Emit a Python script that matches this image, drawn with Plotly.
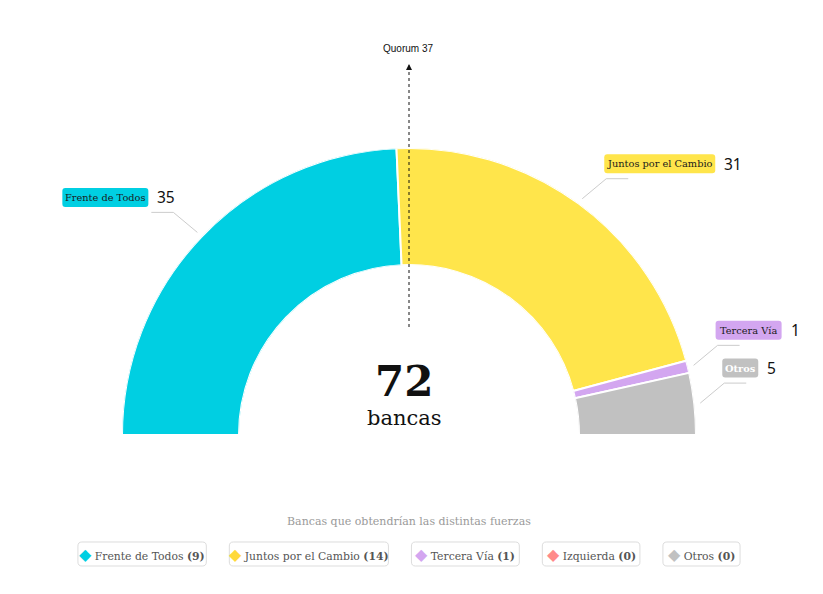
import math
import plotly.graph_objects as go

# ---- data ----
parties = ["Frente de Todos", "Juntos por el Cambio", "Tercera Vía", "Otros"]
seats = [35, 31, 1, 5]
colors = ["#00CFE2", "#FFE54B", "#D3A6F0", "#C1C1C1"]
label_text_colors = ["#1a1a1a", "#1a1a1a", "#1a1a1a", "#ffffff"]
total_seats = 72
quorum = 37
center_label = "bancas"

legend_title = "Bancas que obtendrían las distintas fuerzas"
legend_names = ["Frente de Todos", "Juntos por el Cambio", "Tercera Vía", "Izquierda", "Otros"]
legend_counts = [9, 14, 1, 0, 0]
legend_colors = ["#00CFE2", "#FFD93B", "#D3A6F0", "#FF8A8A", "#C1C1C1"]

# ---- layout geometry (pixels of the window) ----
OFF = 8                      # page body margin
W, H = 823 - OFF, 594 - OFF  # figure size
cx, cy, R, r_in = 409, 435, 287, 170
SERIF = "DejaVu Serif"


def P(x, y):
    return (x - OFF) / W, 1 - (y - OFF) / H


def rrect(xl, yt, xr, yb, rad):
    """rounded rectangle path in paper coords from window pixels"""
    def p(x, y):
        a, b = P(x, y)
        return "%.5f,%.5f" % (a, b)
    return ("M%s L%s Q%s %s L%s Q%s %s L%s Q%s %s L%s Q%s %s Z" % (
        p(xl + rad, yt), p(xr - rad, yt), p(xr, yt), p(xr, yt + rad),
        p(xr, yb - rad), p(xr, yb), p(xr - rad, yb),
        p(xl + rad, yb), p(xl, yb), p(xl, yb - rad),
        p(xl, yt + rad), p(xl, yt), p(xl + rad, yt)))


deg_per_seat = 180 / total_seats
starts = [sum(seats[:i]) for i in range(len(seats))]
theta = [(s + v / 2) * deg_per_seat for s, v in zip(starts, seats)]
widths = [v * deg_per_seat for v in seats]

fig = go.Figure()
fig.add_trace(go.Barpolar(
    theta=theta, r=[1] * len(seats), width=widths, base=0,
    marker=dict(color=colors, line=dict(color="white", width=2)),
    hoverinfo="skip", showlegend=False,
))

x0, y0 = P(cx - R, cy)
x1, y1 = P(cx + R, cy - R)
fig.update_layout(
    width=W, height=H, margin=dict(l=0, r=0, t=0, b=0),
    paper_bgcolor="white", plot_bgcolor="white",
    showlegend=False,
    polar=dict(
        domain=dict(x=[x0, x1], y=[y0, y1]),
        sector=[0, 180], hole=r_in / R, bgcolor="white",
        angularaxis=dict(direction="clockwise", rotation=180, visible=False),
        radialaxis=dict(range=[0, 1], visible=False),
    ),
)

shapes = []
annotations = []

# ---- leader lines and labels ----
for name, v, th, col, tcol in zip(parties, seats, theta, colors, label_text_colors):
    a = math.radians(th)
    sx = cx - (R + 6) * math.cos(a)
    sy = cy - (R + 6) * math.sin(a)
    side = -1 if th < 90 else 1
    dx, dy = sx + side * 24, sy - 20
    hx = dx + side * 22
    for (ax_, ay_), (bx_, by_) in [((sx, sy), (dx, dy)), ((dx, dy), (hx, dy))]:
        p1, p2 = P(ax_, ay_), P(bx_, by_)
        shapes.append(dict(type="line", xref="paper", yref="paper",
                           x0=p1[0], y0=p1[1], x1=p2[0], y1=p2[1],
                           line=dict(color="#cccccc", width=1)))
    box_w = 5.0 * len(name) + 11
    num_w = 9 * len(str(v)) + 7
    bx_left = dx - 2 if side > 0 else dx - box_w - num_w
    ly = dy - 15
    shapes.append(dict(type="path", xref="paper", yref="paper",
                       path=rrect(bx_left, ly - 9.5, bx_left + box_w, ly + 9.5, 3),
                       fillcolor=col, line=dict(width=0)))
    bpx, bpy = P(bx_left + box_w / 2, ly)
    bold = name == "Otros"
    annotations.append(dict(
        xref="paper", yref="paper", x=bpx, y=bpy, showarrow=False,
        text=("<b>%s</b>" % name) if bold else name,
        font=dict(family=SERIF, size=9.8, color=tcol),
        xanchor="center", yanchor="middle"))
    npx, npy = P(bx_left + box_w + 7, ly)
    annotations.append(dict(
        xref="paper", yref="paper", x=npx, y=npy, showarrow=False,
        text=str(v), font=dict(family="Noto Sans", size=15.5, color="#111"),
        xanchor="left", yanchor="middle"))

# ---- quorum line ----
qx, qtop = P(cx, 68)
_, qbot = P(cx, 327)
shapes.append(dict(type="line", xref="paper", yref="paper",
                   x0=qx, x1=qx, y0=qbot, y1=qtop,
                   line=dict(color="#111", width=1, dash="3px,3px")))
hx_, hy_ = P(cx, 64)
annotations.append(dict(xref="paper", yref="paper", x=hx_, y=hy_,
                        ax=0, ay=7, text="", showarrow=True, arrowhead=2,
                        arrowsize=1, arrowwidth=1.2, arrowcolor="#111"))
tx_, ty_ = P(cx - 1, 48)
annotations.append(dict(xref="paper", yref="paper", x=tx_, y=ty_, showarrow=False,
                        text="Quorum %d" % quorum,
                        font=dict(family="Liberation Sans", size=10, color="#111"),
                        xanchor="center", yanchor="middle"))

# ---- center text ----
c1 = P(cx - 5, 382)
annotations.append(dict(xref="paper", yref="paper", x=c1[0], y=c1[1], showarrow=False,
                        text="<b>%d</b>" % total_seats,
                        font=dict(family=SERIF, size=42, color="#111"),
                        xanchor="center", yanchor="middle"))
c2 = P(cx - 5, 418)
annotations.append(dict(xref="paper", yref="paper", x=c2[0], y=c2[1], showarrow=False,
                        text=center_label,
                        font=dict(family=SERIF, size=21, color="#111"),
                        xanchor="center", yanchor="middle"))

# ---- legend ----
lt = P(cx, 521)
annotations.append(dict(xref="paper", yref="paper", x=lt[0], y=lt[1], showarrow=False,
                        text=legend_title,
                        font=dict(family=SERIF, size=11, color="#9a9a9a"),
                        xanchor="center", yanchor="middle"))
texts = ["%s (%d)" % (n, c) for n, c in zip(legend_names, legend_counts)]
lw = [31 + 5.125 * len(t) for t in texts]
gap = 23
total_w = sum(lw) + gap * (len(lw) - 1)
x_cur = cx - total_w / 2
for n, c, col, w in zip(legend_names, legend_counts, legend_colors, lw):
    shapes.append(dict(type="path", xref="paper", yref="paper",
                       path=rrect(x_cur, 542, x_cur + w, 566, 4),
                       fillcolor="white", line=dict(color="#dddddd", width=1)))
    p = P(x_cur + w / 2, 554)
    annotations.append(dict(
        xref="paper", yref="paper", x=p[0], y=p[1], showarrow=False,
        text='<span style="color:%s;font-size:16px">◆</span> %s <b>(%d)</b>' % (col, n, c),
        font=dict(family=SERIF, size=10.8, color="#555"),
        xanchor="center", yanchor="middle"))
    x_cur += w + gap

fig.update_layout(shapes=shapes, annotations=annotations)
fig.write_html("out.html")
